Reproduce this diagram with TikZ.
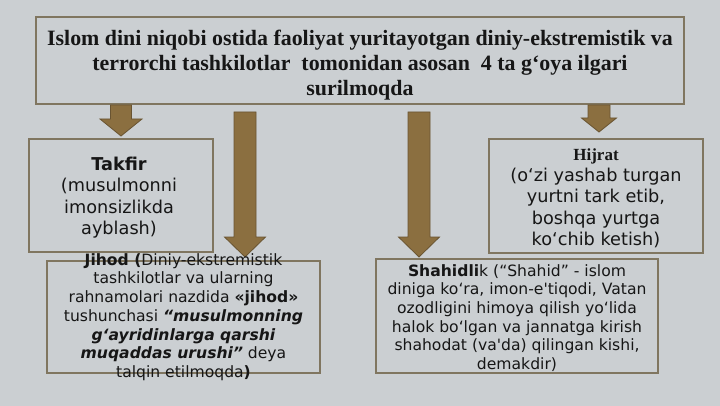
\documentclass[tikz,border=0pt]{standalone}
\usepackage{fontspec}
\setmainfont{DejaVu Sans}[Ligatures=TeXOff]
\newfontfamily\titlefont{Liberation Serif}[Ligatures=TeXOff]
\usetikzlibrary{calc}
\definecolor{bgcol}{RGB}{203,207,210}
\definecolor{boxcol}{RGB}{128,118,96}
\definecolor{arrcol}{RGB}{139,111,64}
\definecolor{arrline}{RGB}{105,84,50}
\definecolor{txtcol}{RGB}{22,22,22}
\newcommand{\bi}[1]{\textbf{\textit{#1}}}
% block arrow: from, tip, half shaft, half head, head length
\newcommand{\blockarrow}[5]{%
  \filldraw[arr] ($(#1)+(-#3,0)$) -- ($(#2)+(-#3,-#5)$) -- ($(#2)+(-#4,-#5)$) -- (#2)
    -- ($(#2)+(#4,-#5)$) -- ($(#2)+(#3,-#5)$) -- ($(#1)+(#3,0)$) -- cycle;}
\begin{document}
\begin{tikzpicture}[x=1pt,y=-1pt]
		\tikzset{box/.style={draw=boxcol,line width=2pt,inner sep=0pt},
		  arr/.style={fill=arrcol,draw=arrline,line width=.8pt,line join=miter},
		  txt/.style={align=center,text=txtcol,inner sep=0pt},
		  big/.style={font=\fontsize{17.7}{21.3}\selectfont},
		  small/.style={font=\fontsize{15.6}{18.7}\selectfont}}
		\fill[bgcol] (0,0) rectangle (720,406);
		\useasboundingbox (0,0) rectangle (720,406);

		\node[box,minimum width=648pt,minimum height=87pt] (title) at (360,60.5) {};
		\node[box,minimum width=184pt,minimum height=113pt] (takfir) at (121,195.5) {};
		\node[box,minimum width=214pt,minimum height=114pt] (hijrat) at (596,196) {};
		\node[box,minimum width=273pt,minimum height=112pt] (jihod) at (183.5,317) {};
		\node[box,minimum width=282pt,minimum height=114pt] (shahid) at (517,316) {};

		\coordinate (a2s) at (245,112);
		\coordinate (a2e) at (245,257);
		\coordinate (a3s) at (419,112);
		\coordinate (a3e) at (419,257);
		\coordinate (a4s) at (title.south -| 599,0);
		\coordinate (a4e) at (599,132);

		\blockarrow{title.south -| takfir.north}{$(takfir.north)+(0,-2)$}{10.5}{21}{17}
		\blockarrow{a2s}{a2e}{11}{20.5}{20}
		\blockarrow{a3s}{a3e}{11}{20.5}{20}
		\blockarrow{a4s}{a4e}{11}{17.5}{14}

		\node[txt,font=\fontsize{21.9}{25}\selectfont\titlefont\bfseries] (titletxt) at ($(title)+(0,5)$)
		  {Islom dini niqobi ostida faoliyat yuritayotgan diniy-ekstremistik va\\
		   terrorchi tashkilotlar\ \ tomonidan asosan\ \ 4 ta g‘oya ilgari\\ surilmoqda};
		\node[txt,big] (takfirtxt) at ($(takfir)+(-2,2)$)
		  {\textbf{Takfir}\\ (musulmonni\\ imonsizlikda\\ ayblash)};
		\node[txt,big] (hijrattxt) at ($(hijrat)+(0,2)$)
		  {{\titlefont\bfseries\fontsize{17}{21}\selectfont Hijrat}\\ (o‘zi yashab turgan\\ yurtni tark etib,\\ boshqa yurtga\\ ko‘chib ketish)};
		\node[txt,small] (jihodtxt) at (jihod)
		  {\textbf{Jihod (}Diniy-ekstremistik\\ tashkilotlar va ularning\\ rahnamolari nazdida \textbf{«jihod»}\\
		   tushunchasi \bi{“musulmonning}\\ \bi{g‘ayridinlarga qarshi}\\ \bi{muqaddas urushi”} deya\\ talqin etilmoqda\textbf{)}};
		\node[txt,small] (shahidtxt) at ($(shahid)+(0,2)$)
		  {\textbf{Shahidli}k (“Shahid” - islom\\ diniga ko‘ra, imon-e'tiqodi, Vatan\\ ozodligini himoya qilish yo‘lida\\
		   halok bo‘lgan va jannatga kirish\\ shahodat (va'da) qilingan kishi,\\ demakdir)};
\end{tikzpicture}
\end{document}
